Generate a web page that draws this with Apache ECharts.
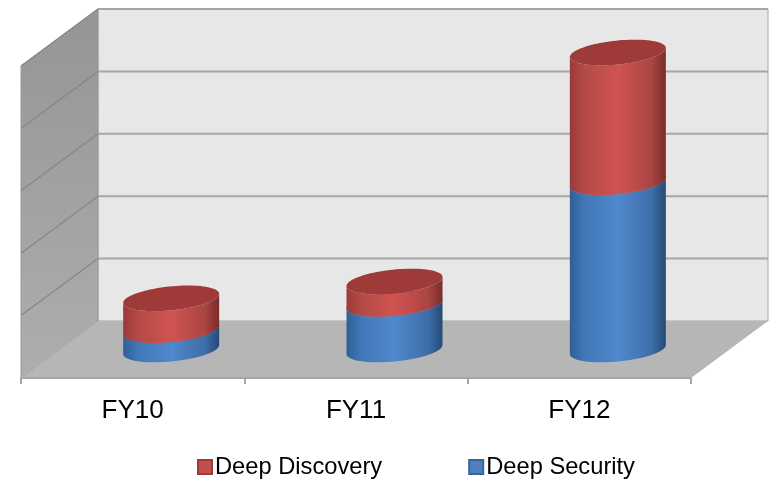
<!DOCTYPE html>
<html>
<head>
<meta charset="utf-8">
<style>html,body{margin:0;padding:0;background:#fff}#chart{width:769px;height:479px}</style>
<script src="https://cdn.jsdelivr.net/npm/echarts@6/dist/echarts.min.js"></script>
</head>
<body>
<div id="chart"></div>
<script>
// Revenue split by product and fiscal year (unlabelled value scale, in gridline units)
const categories = ['FY10', 'FY11', 'FY12'];
const deepSecurity = [0.31, 0.73, 2.68];
const deepDiscovery = [0.51, 0.36, 2.08];
const gridTicks = [0, 1, 2, 3, 4, 5];

// Oblique projection of the chart box
const DEPTH_X = 77, DEPTH_Y = 57;
const RADIUS_X = 48, TILT = 4.5, RADIUS_Y = 12;

function ringPoint(cx, cy, deg) {
  const t = deg * Math.PI / 180;
  return [cx + RADIUS_X * Math.cos(t), cy - TILT * Math.cos(t) + RADIUS_Y * Math.sin(t)];
}
function arc(cx, cy, from, to) {
  const pts = [];
  const step = from < to ? 4 : -4;
  for (let d = from; step > 0 ? d <= to : d >= to; d += step) pts.push(ringPoint(cx, cy, d));
  return pts;
}
function hGradient(stops) {
  return { type: 'linear', x: 0, y: 0, x2: 1, y2: 0, colorStops: stops };
}

// One cylinder segment: side surface plus elliptical cap, mid-way into the box depth
function cylinderSegment(palette) {
  return function (params, api) {
    const base = api.coord([api.value(0), api.value(1)]);
    const top = api.coord([api.value(0), api.value(2)]);
    const cx = base[0] + DEPTH_X / 2;
    const yLow = base[1] - DEPTH_Y / 2;
    const yHigh = top[1] - DEPTH_Y / 2;
    const side = arc(cx, yLow, 180, 0).concat(arc(cx, yHigh, 0, 180));
    return {
      type: 'group',
      children: [
        { type: 'polygon', shape: { points: side }, style: { fill: hGradient(palette.side) } },
        { type: 'polygon', shape: { points: arc(cx, yHigh, 0, 360) }, style: { fill: palette.cap } }
      ]
    };
  };
}

const redPalette = {
  cap: '#9e3b38',
  side: [
    { offset: 0, color: '#98393a' }, { offset: 0.15, color: '#b44a47' },
    { offset: 0.5, color: '#cf5451' }, { offset: 0.85, color: '#aa4543' },
    { offset: 1, color: '#7a2c2a' }
  ]
};
const bluePalette = {
  cap: '#3a6ca8',
  side: [
    { offset: 0, color: '#2f5f96' }, { offset: 0.15, color: '#4177b6' },
    { offset: 0.5, color: '#5088cd' }, { offset: 0.85, color: '#3e6ea8' },
    { offset: 1, color: '#244a78' }
  ]
};

function stacked(lower, values) {
  return values.map((v, i) => [i, lower ? lower[i] : 0, (lower ? lower[i] : 0) + v]);
}

// Side wall, back wall and floor of the box
function renderWalls(params, api) {
  const box = params.coordSys;
  const x0 = box.x, x1 = box.x + box.width;
  const yBottom = box.y + box.height, yTop = box.y;
  const bx0 = x0 + DEPTH_X, bx1 = x1 + DEPTH_X;
  const byTop = yTop - DEPTH_Y, byBottom = yBottom - DEPTH_Y;
  return {
    type: 'group',
    children: [
      { type: 'polygon',
        shape: { points: [[bx0, byTop], [bx1, byTop], [bx1, byBottom], [bx0, byBottom]] },
        style: { fill: '#e7e7e7', stroke: '#a6a6a6', lineWidth: 1 } },
      { type: 'polygon',
        shape: { points: [[x0, yTop], [bx0, byTop], [bx0, byBottom], [x0, yBottom]] },
        style: {
          fill: { type: 'linear', x: 0, y: 0, x2: 0, y2: 1, colorStops: [
            { offset: 0, color: '#959595' }, { offset: 1, color: '#aeaeae' }] },
          stroke: '#9a9a9a', lineWidth: 1 } },
      { type: 'polygon',
        shape: { points: [[x0, yBottom], [bx0, byBottom], [bx1, byBottom], [x1, yBottom]] },
        style: { fill: '#b6b6b6' } }
    ]
  };
}

// A gridline runs along the back wall and slants forward on the side wall
function renderGridLine(params, api) {
  const box = params.coordSys;
  const y = api.coord([0, api.value(0)])[1];
  const x0 = box.x, bx0 = x0 + DEPTH_X, bx1 = box.x + box.width + DEPTH_X;
  const by = y - DEPTH_Y;
  const floorLevel = api.value(0) === 0;
  return {
    type: 'group',
    children: floorLevel ? [] : [
      { type: 'line', shape: { x1: bx0, y1: by, x2: bx1, y2: by },
        style: { stroke: '#a6a6a6', lineWidth: 2 } },
      { type: 'line', shape: { x1: x0, y1: y, x2: bx0, y2: by },
        style: { stroke: '#868686', lineWidth: 1.2 } }
    ]
  };
}

const chart = echarts.init(document.getElementById('chart'));
chart.setOption({
  animation: false,
  backgroundColor: '#ffffff',
  tooltip: { show: false },
  grid: { left: 21, right: 78, top: 66, bottom: 101 },
  xAxis: {
    type: 'category',
    data: categories,
    axisLine: { show: true, lineStyle: { color: '#a6a6a6', width: 2 } },
    axisTick: { show: true, length: 6, lineStyle: { color: '#a6a6a6', width: 2 } },
    axisLabel: { color: '#000000', fontFamily: 'Liberation Sans', fontSize: 26, margin: 20 },
    z: 5
  },
  yAxis: { type: 'value', min: 0, max: 5, interval: 1, show: false },
  legend: {
    left: 197, top: 455, padding: 0,
    itemWidth: 14, itemHeight: 14, itemGap: 86,
    icon: 'rect',
    data: ['Deep Discovery', 'Deep Security'],
    textStyle: { color: '#000000', fontFamily: 'Liberation Sans', fontSize: 23.7, padding: [0, 0, 0, -2] }
  },
  series: [
    { type: 'custom', name: 'walls', silent: true, clip: false, z: 1,
      data: [[0]], renderItem: renderWalls },
    { type: 'custom', name: 'gridlines', silent: true, clip: false, z: 1,
      data: gridTicks.map(v => [v]), renderItem: renderGridLine },
    { type: 'custom', name: 'Deep Security', clip: false, z: 2,
      encode: { x: 0, y: [1, 2] },
      data: stacked(null, deepSecurity),
      itemStyle: { color: '#4f81bd', borderColor: '#38659c', borderWidth: 1 },
      renderItem: cylinderSegment(bluePalette) },
    { type: 'custom', name: 'Deep Discovery', clip: false, z: 3,
      encode: { x: 0, y: [1, 2] },
      data: stacked(deepSecurity, deepDiscovery),
      itemStyle: { color: '#c0504d', borderColor: '#9c3b39', borderWidth: 1 },
      renderItem: cylinderSegment(redPalette) }
  ]
});
</script>
</body>
</html>
